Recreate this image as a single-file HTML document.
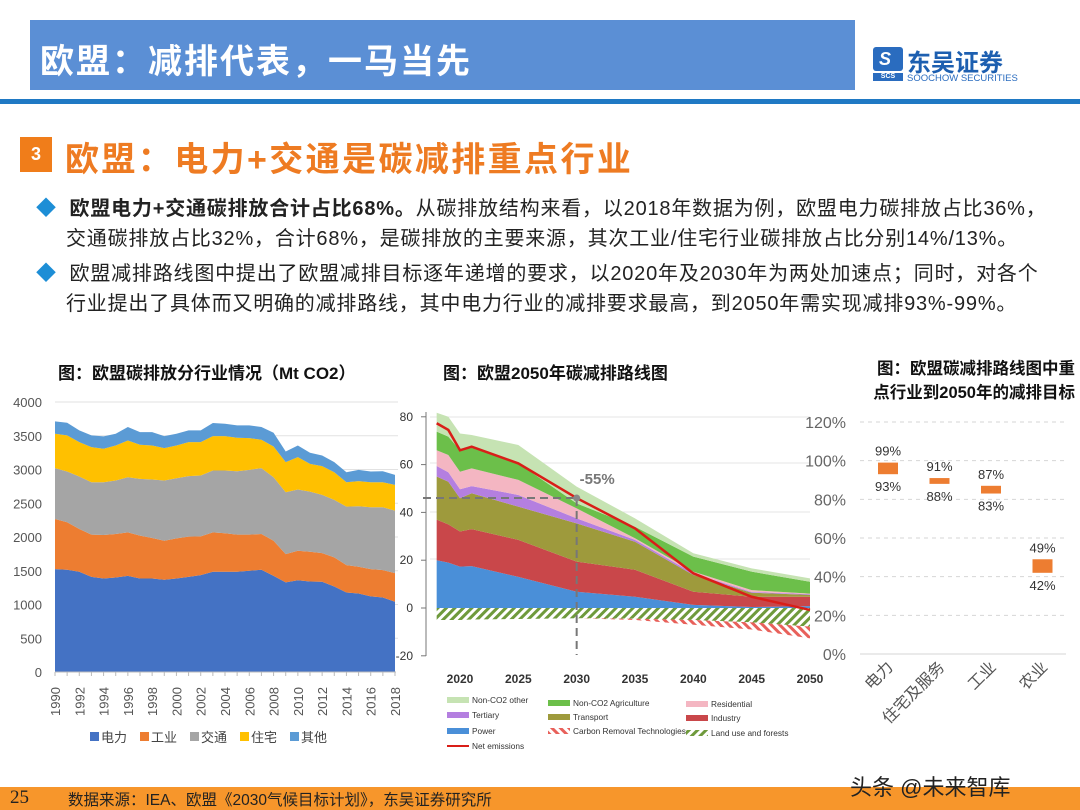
<!DOCTYPE html>
<html><head><meta charset="utf-8">
<style>
html,body{margin:0;padding:0}
body{width:1080px;height:810px;position:relative;overflow:hidden;background:#fff;font-family:"Liberation Sans","Noto Sans CJK SC",sans-serif}
.abs{position:absolute;white-space:nowrap}
</style></head>
<body>
<div class="abs" style="left:30px;top:20px;width:825px;height:70px;background:#5b8fd5"></div>
<div class="abs" style="left:40px;top:34px;font-size:34px;font-weight:bold;color:#fff;letter-spacing:2px">欧盟：减排代表，一马当先</div>
<div class="abs" style="left:873px;top:45px;width:152px;height:42px">
  <div style="position:absolute;left:0;top:2px;width:30px;height:24px;background:#2a6cbf;border-radius:3px"></div>
  <div style="position:absolute;left:6px;top:4px;color:#fff;font-size:18px;font-weight:bold;font-style:italic">S</div>
  <div style="position:absolute;left:0;top:28px;width:30px;height:8px;background:#2a6cbf;color:#fff;font-size:7px;line-height:8px;text-align:center;font-weight:bold">SCS</div>
  <div style="position:absolute;left:34px;top:-2px;font-size:24px;font-weight:bold;color:#1d5fb0">东吴证券</div>
  <div style="position:absolute;left:34px;top:28px;font-size:9.5px;color:#2a6cbf">SOOCHOW SECURITIES</div>
</div>
<div class="abs" style="left:0;top:99px;width:1080px;height:5px;background:#1f79c4"></div>
<div class="abs" style="left:20px;top:137px;width:32px;height:35px;background:#f07d1a;color:#fff;font-size:18px;font-weight:bold;text-align:center;line-height:35px">3</div>
<div class="abs" style="left:65px;top:132px;font-size:34px;font-weight:bold;color:#ee7b22;letter-spacing:2.4px">欧盟：电力+交通是碳减排重点行业</div>
<div class="abs" style="left:36px;top:194px;font-size:20px;line-height:30px;color:#222;letter-spacing:0.8px">
<span style="color:#1d8ed6">◆</span>&nbsp; <b>欧盟电力+交通碳排放合计占比68%。</b>从碳排放结构来看，以2018年数据为例，欧盟电力碳排放占比36%，<br>
<span style="padding-left:30px">交通碳排放占比32%，合计68%，是碳排放的主要来源，其次工业/住宅行业碳排放占比分别14%/13%。</span></div>
<div class="abs" style="left:36px;top:259px;font-size:20px;line-height:30px;color:#222;letter-spacing:0.8px">
<span style="color:#1d8ed6">◆</span>&nbsp; 欧盟减排路线图中提出了欧盟减排目标逐年递增的要求，以2020年及2030年为两处加速点；同时，对各个<br>
<span style="padding-left:30px">行业提出了具体而又明确的减排路线，其中电力行业的减排要求最高，到2050年需实现减排93%-99%。</span></div>

<div class="abs" style="left:58px;top:359px;font-size:17px;font-weight:bold;color:#111">图：欧盟碳排放分行业情况（Mt CO2）</div>
<div class="abs" style="left:443px;top:359px;font-size:17px;font-weight:bold;color:#111">图：欧盟2050年碳减排路线图</div>
<div class="abs" style="left:830px;top:357px;font-size:16.5px;font-weight:bold;color:#111;line-height:24px;text-align:right;width:245px">图：欧盟碳减排路线图中重<br>点行业到2050年的减排目标</div>

<svg id="svg" class="abs" style="left:0;top:0" width="1080" height="810" xmlns="http://www.w3.org/2000/svg">
<defs>
<pattern id="hatchG" width="6" height="6" patternUnits="userSpaceOnUse" patternTransform="rotate(45)"><rect width="6" height="6" fill="#fff"/><rect width="3" height="6" fill="#6f9a3c"/></pattern>
<pattern id="hatchR" width="6" height="6" patternUnits="userSpaceOnUse" patternTransform="rotate(-45)"><rect width="6" height="6" fill="#fff"/><rect width="3" height="6" fill="#e8605a"/></pattern>
</defs>
</svg>

<div class="abs" style="left:0;top:787px;width:1080px;height:23px;background:#f7962b"></div>
<div class="abs" style="left:10px;top:787px;font-size:19px;font-family:'Liberation Serif',serif;color:#222">25</div>
<div class="abs" style="left:68px;top:788px;font-size:15.5px;color:#222">数据来源：IEA、欧盟《2030气候目标计划》，东吴证券研究所</div>
<div class="abs" style="left:850px;top:770px;font-size:22px;color:#222">头条 @未来智库</div>

<script>
// ---------- Chart 1 data ----------
const years1 = [1990,1991,1992,1993,1994,1995,1996,1997,1998,1999,2000,2001,2002,2003,2004,2005,2006,2007,2008,2009,2010,2011,2012,2013,2014,2015,2016,2017,2018];
const power1 = [1525,1515,1485,1410,1386,1400,1425,1386,1386,1366,1386,1410,1435,1485,1485,1485,1500,1515,1425,1327,1360,1340,1337,1267,1178,1163,1120,1104,1040];
const industry1 = [742,703,634,625,644,645,644,634,599,579,594,595,575,584,570,550,535,530,520,420,437,442,425,431,406,396,405,406,425];
const transport1 = [753,752,777,777,782,792,817,841,866,892,891,896,901,916,930,940,960,975,941,916,906,891,862,852,866,896,915,930,926];
const residential1 = [510,535,510,519,495,519,544,505,505,480,485,505,495,510,510,495,470,420,455,446,480,411,426,410,362,372,372,372,381];
const other1 = [183,188,173,174,183,174,199,188,198,178,174,173,173,193,183,184,189,189,204,158,173,164,158,149,148,168,158,163,148];
const ticks1 = [0,500,1000,1500,2000,2500,3000,3500,4000];
const legend1 = ['电力','工业','交通','住宅','其他'];
// ---------- Chart 2 data ----------
const years2 = [2018,2019,2020,2021,2025,2030,2035,2040,2045,2050];
const power2 = [20,19,17.3,17.5,13,6.8,4.7,1.3,0.4,0.8];
const industry2 = [17,16,14.7,15.5,15.5,12.6,11.3,5.5,4.3,3.9];
const transport2 = [18,17.8,13.9,15,13.9,16,11.7,7,1.7,0.8];
const tertiary2 = [4.4,4,3.8,3,4.9,2.1,0.8,0.7,0.3,0.3];
const residential2 = [6.6,7.2,7.3,7.4,6.3,4.2,0.7,0.7,0.8,0.2];
const agriculture2 = [7.8,7.7,9,8.6,6.9,2.1,4.8,6.3,7.7,5];
const nonco2other2 = [7.9,8.3,7,5.4,7.7,7,3.5,1.4,1.4,1.4];
const landuse2 = [-5,-5,-5,-4.8,-4.6,-4.3,-4.5,-5,-6,-7.8];
const removal2 = [0,0,0,0,0,0,-0.5,-2,-3,-4.9];
const net2 = [77.3,74.5,66,67.5,60.5,46,33.3,14.5,4.7,-0.8];
const ticks2 = [-20,0,20,40,60,80];
const xticks2 = [2020,2025,2030,2035,2040,2045,2050];
// ---------- Chart 3 data ----------
const cats3 = ['电力','住宅及服务','工业','农业'];
const low3 = [93,88,83,42];
const high3 = [99,91,87,49];
const ticks3 = [0,20,40,60,80,100,120];

const NS='http://www.w3.org/2000/svg';
const svg=document.getElementById('svg');
function mk(tag,attrs,parent){const e=document.createElementNS(NS,tag);for(const k in attrs)e.setAttribute(k,attrs[k]);(parent||svg).appendChild(e);return e;}
function txt(s,attrs,parent){const e=mk('text',attrs,parent);e.textContent=s;return e;}

// ===== Chart 1 =====
const g1=mk('g',{});


const x1=y=>55+(y-1990)*(340/28);
const y1=v=>672-v*(270/4000);
ticks1.forEach(t=>{
  if(t>0){const l=mk('line',{x1:55,x2:398,y1:y1(t),y2:y1(t),stroke:'#e2e2e2','stroke-width':1},g1);
  
  }
  const tl=txt(String(t),{x:42,y:y1(t)+5,'text-anchor':'end','font-size':13,fill:'#555'},g1);
  
  
});
const series1=[power1,industry1,transport1,residential1,other1];
const colors1=['#4472c4','#ed7d31','#a5a5a5','#ffc000','#5b9bd5'];
const names1=['area-power','area-industry','area-transport','area-residential','area-other'];
let base1=years1.map(()=>0);
series1.forEach((s,i)=>{
  const top=base1.map((b,j)=>b+s[j]);
  let d='M'+years1.map((yy,j)=>x1(yy)+','+y1(top[j])).join('L');
  for(let j=years1.length-1;j>=0;j--)d+='L'+x1(years1[j])+','+y1(base1[j]);
  const p=mk('path',{d:d+'Z',fill:colors1[i]},g1);
  
  
  base1=top;
});
mk('line',{x1:55,x2:396,y1:672,y2:672,stroke:'#bbb'},g1);
years1.forEach(yy=>{
  mk('line',{x1:x1(yy),x2:x1(yy),y1:672,y2:676,stroke:'#bbb'},g1);
  if(yy%2===0){const t=txt(String(yy),{transform:`translate(${x1(yy)+5},716) rotate(-90)`,'font-size':13,fill:'#555'},g1);
  
  }
});
legend1.forEach((n,i)=>{
  const lx=90+i*50;
  const r=mk('rect',{x:lx,y:732,width:9,height:9,fill:colors1[i]},g1);
  
  
  const t=txt(n,{x:lx+11,y:742,'font-size':13,fill:'#444'},g1);
  
  
});

// ===== Chart 2 =====
const g2=mk('g',{});


const x2=y=>460+(y-2020)*(350/30);
const y2=v=>608-v*2.39;
[417,463,512,559].forEach(yy=>mk('line',{x1:430,x2:810,y1:yy,y2:yy,stroke:'#e4e4e4'},g2));
function band(lo,hi,fill,name){
  let d='M'+years2.map((yy,j)=>x2(yy)+','+y2(hi[j])).join('L');
  for(let j=years2.length-1;j>=0;j--)d+='L'+x2(years2[j])+','+y2(lo[j]);
  const p=mk('path',{d:d+'Z',fill:fill},g2);
  
  
}
const s2=[power2,industry2,transport2,tertiary2,residential2,agriculture2,nonco2other2];
const c2=['#4a8fd8','#c9474a','#9e9a3c','#b47fe0','#f4b6c2','#6cbf4a','#c6e3b3'];
const n2=['area-power','area-industry','area-transport','area-tertiary','area-residential','area-non-co2-agriculture','area-non-co2-other'];
let b2=years2.map(()=>0);
s2.forEach((s,i)=>{const top=b2.map((b,j)=>b+s[j]);band(b2,top,c2[i],n2[i]);b2=top;});
const zero=years2.map(()=>0);
band(zero,landuse2,'url(#hatchG)','area-land-use');
band(landuse2,landuse2.map((v,j)=>v+removal2[j]),'url(#hatchR)','area-carbon-removal');
const net=mk('polyline',{points:years2.map((yy,j)=>x2(yy)+','+y2(net2[j])).join(' '),fill:'none',stroke:'#d91e18','stroke-width':2.5},g2);


const i30=years2.indexOf(2030);
mk('line',{x1:423,x2:x2(2030),y1:y2(net2[i30]),y2:y2(net2[i30]),stroke:'#777','stroke-width':2,'stroke-dasharray':'8,5'},g2);
mk('line',{x1:x2(2030),x2:x2(2030),y1:y2(net2[i30]),y2:655,stroke:'#777','stroke-width':2,'stroke-dasharray':'8,5'},g2);
mk('circle',{cx:x2(2030),cy:y2(net2[i30]),r:3.5,fill:'#888'},g2);
const lbl=txt('-55%',{x:x2(2030)+3,y:y2(net2[i30])-14,'font-size':15,'font-weight':'bold',fill:'#777'},g2);


mk('line',{x1:426,x2:426,y1:412,y2:656,stroke:'#777'},g2);
ticks2.forEach(t=>{
  mk('line',{x1:421,x2:426,y1:y2(t),y2:y2(t),stroke:'#777'},g2);
  const tl=txt(String(t),{x:413,y:y2(t)+4,'text-anchor':'end','font-size':12,fill:'#333'},g2);
  
  
});
xticks2.forEach(t=>{
  const tl=txt(String(t),{x:x2(t),y:683,'text-anchor':'middle','font-size':12,'font-weight':'bold',fill:'#333'},g2);
  
  
});
const leg2=[['Non-CO2 other','#c6e3b3',447,700],['Tertiary','#b47fe0',447,715],['Power','#4a8fd8',447,731],['Net emissions','line',447,746],
['Non-CO2 Agriculture','#6cbf4a',548,703],['Transport','#9e9a3c',548,717],['Carbon Removal Technologies','url(#hatchR)',548,731],
['Residential','#f4b6c2',686,704],['Industry','#c9474a',686,718],['Land use and forests','url(#hatchG)',686,733]];
leg2.forEach(([n,c,lx,ly])=>{
  if(c==='line')mk('line',{x1:lx,x2:lx+22,y1:ly,y2:ly,stroke:'#d91e18','stroke-width':2},g2);
  else mk('rect',{x:lx,y:ly-3,width:22,height:6,fill:c},g2);
  const t=txt(n,{x:lx+25,y:ly+3,'font-size':8.3,fill:'#333'},g2);
  
  
});

// ===== Chart 3 =====
const g3=mk('g',{});


const y3=v=>654-v*(232/120);
const x3=i=>888+i*51.5;
ticks3.forEach(t=>{
  mk('line',{x1:860,x2:1066,y1:y3(t),y2:y3(t),stroke:'#d6d6d6','stroke-dasharray':t===0?'':'4,4'},g3);
  const tl=txt(t+'%',{x:846,y:y3(t)+6,'text-anchor':'end','font-size':16,fill:'#666'},g3);
  
  
});
cats3.forEach((c,i)=>{
  const top=y3(high3[i]),bot=y3(low3[i]);
  const r=mk('rect',{x:x3(i)-10,y:top,width:20,height:Math.max(bot-top,5),fill:'#ed7d31'},g3);
  
  
  const a=txt(high3[i]+'%',{x:x3(i),y:top-7,'text-anchor':'middle','font-size':13,fill:'#333'},g3);
  
  
  const b=txt(low3[i]+'%',{x:x3(i),y:Math.max(bot,top+5)+17,'text-anchor':'middle','font-size':13,fill:'#333'},g3);
  
  
  const cl=txt(c,{transform:`translate(${x3(i)+6},668) rotate(-45)`,'text-anchor':'end','font-size':16,fill:'#555'},g3);
  
  
});
</script>
</body></html>
